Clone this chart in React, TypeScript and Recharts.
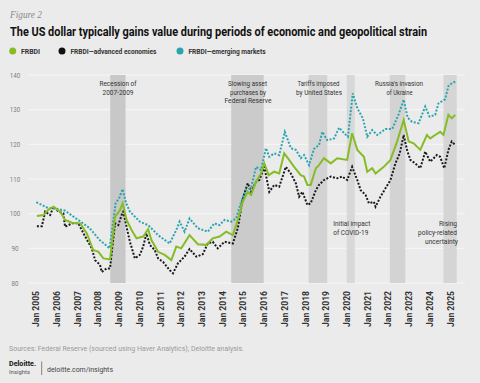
import React from 'react';
import { LineChart, Line, XAxis, YAxis, CartesianGrid, ReferenceArea } from 'recharts';

const yearTicks = [2005, 2006, 2007, 2008, 2009, 2010, 2011, 2012, 2013, 2014, 2015, 2016, 2017, 2018, 2019, 2020, 2021, 2022, 2023, 2024, 2025];
const valueTicks = [80, 90, 100, 110, 120, 130, 140];

const frbdiDates = [2005.03, 2005.35, 2005.59, 2005.83, 2006.15, 2006.39, 2006.72, 2007.12, 2007.44, 2007.75, 2008.0, 2008.24, 2008.56, 2008.8, 2009.04, 2009.17, 2009.36, 2009.6, 2009.84, 2010.16, 2010.4, 2010.56, 2010.88, 2011.2, 2011.52, 2011.76, 2012.0, 2012.4, 2012.8, 2013.2, 2013.52, 2013.85, 2014.17, 2014.49, 2014.73, 2014.97, 2015.21, 2015.37, 2015.61, 2015.85, 2016.01, 2016.22, 2016.49, 2016.73, 2016.97, 2017.21, 2017.45, 2017.77, 2017.93, 2018.09, 2018.25, 2018.5, 2018.65, 2018.89, 2019.22, 2019.53, 2020.01, 2020.25, 2020.5, 2020.82, 2020.98, 2021.22, 2021.38, 2021.78, 2022.1, 2022.42, 2022.74, 2022.98, 2023.22, 2023.54, 2023.86, 2024.02, 2024.26, 2024.5, 2024.66, 2024.9, 2025.06, 2025.23];
const frbdiValues = [99.3, 99.6, 101.2, 102.0, 100.6, 98.2, 97.4, 97.2, 94.3, 89.5, 89.0, 87.1, 86.8, 99.1, 101.0, 103.0, 98.2, 95.3, 92.9, 93.4, 95.5, 92.4, 89.0, 88.1, 86.6, 90.5, 90.0, 93.8, 91.2, 91.0, 92.9, 93.4, 94.8, 93.8, 98.2, 103.4, 106.3, 105.4, 109.2, 111.6, 114.5, 111.1, 112.1, 111.6, 117.4, 115.5, 113.5, 111.1, 110.7, 108.3, 108.3, 113.1, 114.0, 116.0, 114.5, 116.0, 115.5, 123.2, 118.4, 116.4, 112.1, 113.1, 111.6, 113.5, 115.5, 120.8, 127.0, 120.8, 120.3, 118.4, 122.7, 121.7, 122.7, 123.6, 122.7, 128.5, 127.5, 128.5];

const advancedDates = [2005.03, 2005.27, 2005.43, 2005.67, 2005.83, 2006.07, 2006.31, 2006.39, 2006.72, 2007.03, 2007.36, 2007.68, 2007.84, 2008.08, 2008.16, 2008.4, 2008.56, 2008.8, 2008.96, 2009.12, 2009.2, 2009.36, 2009.52, 2009.76, 2010.0, 2010.16, 2010.32, 2010.48, 2010.72, 2010.88, 2011.12, 2011.44, 2011.6, 2011.84, 2012.16, 2012.4, 2012.73, 2013.04, 2013.28, 2013.52, 2013.76, 2014.09, 2014.49, 2014.73, 2014.97, 2015.21, 2015.37, 2015.61, 2015.77, 2016.01, 2016.25, 2016.49, 2016.73, 2017.05, 2017.29, 2017.53, 2017.69, 2017.85, 2018.09, 2018.25, 2018.5, 2018.65, 2018.89, 2019.22, 2019.53, 2019.77, 2020.01, 2020.25, 2020.5, 2020.66, 2020.9, 2021.06, 2021.3, 2021.38, 2021.62, 2021.86, 2022.1, 2022.34, 2022.55, 2022.74, 2022.9, 2023.06, 2023.3, 2023.54, 2023.78, 2024.02, 2024.34, 2024.5, 2024.7, 2024.9, 2025.06, 2025.23];
const advancedValues = [96.4, 96.4, 100.6, 99.6, 102.0, 100.6, 100.1, 96.2, 97.2, 97.2, 93.4, 90.0, 86.6, 85.2, 83.2, 84.2, 84.2, 97.2, 96.7, 99.6, 100.6, 96.2, 91.9, 87.1, 88.1, 90.5, 94.3, 91.0, 89.5, 87.1, 86.1, 83.7, 82.8, 85.7, 87.6, 89.8, 87.6, 88.3, 91.4, 91.9, 90.0, 91.9, 91.4, 95.8, 104.4, 108.8, 106.3, 109.2, 109.7, 113.5, 106.3, 108.3, 107.8, 113.5, 111.6, 108.8, 104.9, 106.3, 102.5, 103.0, 106.8, 108.3, 109.7, 110.7, 110.2, 110.7, 109.7, 113.5, 109.7, 106.8, 105.4, 103.0, 103.4, 102.0, 104.9, 107.3, 109.7, 114.5, 117.4, 122.7, 118.4, 115.5, 114.5, 113.1, 117.9, 115.0, 116.9, 116.4, 113.1, 118.4, 120.8, 119.8];

const emergingDates = [2005.0, 2005.58, 2005.9, 2006.38, 2007.02, 2007.58, 2008.06, 2008.54, 2008.83, 2009.0, 2009.17, 2009.33, 2009.52, 2010.0, 2010.4, 2010.64, 2010.88, 2011.44, 2011.76, 2011.92, 2012.16, 2012.4, 2012.8, 2013.28, 2013.6, 2013.85, 2014.09, 2014.41, 2014.65, 2014.89, 2015.13, 2015.37, 2015.61, 2015.85, 2016.09, 2016.25, 2016.49, 2016.73, 2017.0, 2017.29, 2017.53, 2017.77, 2017.93, 2018.17, 2018.41, 2018.65, 2018.81, 2019.05, 2019.38, 2019.62, 2019.9, 2020.05, 2020.28, 2020.5, 2020.77, 2020.98, 2021.22, 2021.46, 2021.86, 2022.18, 2022.5, 2022.74, 2022.93, 2023.14, 2023.46, 2023.78, 2023.99, 2024.26, 2024.42, 2024.74, 2024.9, 2025.06, 2025.23];
const emergingValues = [103.3, 101.6, 101.5, 100.9, 98.2, 95.8, 92.4, 90.0, 103.0, 104.5, 107.1, 103.1, 100.6, 97.7, 96.7, 95.3, 93.8, 91.4, 95.3, 97.7, 94.8, 98.6, 95.8, 94.8, 97.2, 96.7, 98.2, 97.7, 98.6, 103.4, 106.8, 107.3, 113.5, 112.6, 118.9, 116.4, 117.4, 116.9, 123.6, 118.9, 118.4, 116.0, 116.9, 114.0, 118.7, 119.8, 123.6, 121.2, 121.7, 124.8, 123.0, 122.2, 134.7, 130.4, 127.5, 122.2, 124.1, 122.7, 124.4, 124.4, 128.7, 132.9, 127.7, 126.5, 126.1, 130.9, 128.0, 128.5, 131.8, 133.0, 136.8, 137.6, 138.1];

const bandStarts = [2008.57, 2014.41, 2018.15, 2019.99, 2022.07, 2024.66];
const bandEnds = [2009.31, 2015.98, 2019.05, 2020.38, 2022.82, 2025.3];
const bandColors = ['#c8c8c8', '#cbcbcb', '#d3d3d3', '#d8d8d8', '#d3d3d3', '#d5d5d5'];

const frbdiData = frbdiDates.map((t, i) => ({ t, v: frbdiValues[i] }));
const advancedData = advancedDates.map((t, i) => ({ t, v: advancedValues[i] }));
const emergingData = emergingDates.map((t, i) => ({ t, v: emergingValues[i] }));

const FONT = "Roboto, 'Noto Sans', sans-serif";

const XTick = (props: any) => {
  const { x, payload } = props;
  return (
    <text
      transform={`translate(${x},291) rotate(-90)`}
      textAnchor="end"
      dominantBaseline="central"
      fontSize={8.5}
      fontFamily={FONT}
      fontWeight="bold"
      fill="#333"
      textLength={36}
      lengthAdjust="spacingAndGlyphs"
    >
      {`Jan ${payload.value}`}
    </text>
  );
};

const YTick = (props: any) => {
  const { y, payload } = props;
  return (
    <text transform={`translate(15,${y}) scale(0.78,1)`} textAnchor="middle" dominantBaseline="central" fontSize={8} fontFamily={FONT} fill="#808080">
      {payload.value}
    </text>
  );
};

type TProps = { x: number; y: number; w: number; size: number; sx?: number; anchor?: 'start' | 'middle' | 'end'; weight?: string; color?: string; family?: string; italic?: boolean; children: React.ReactNode };
const T = ({ x, y, w, size, sx = 0.82, anchor = 'start', weight = 'normal', color = '#333', family = FONT, italic = false, children }: TProps) => (
  <text
    transform={`translate(${x},${y}) scale(${sx},1)`}
    textAnchor={anchor}
    fontSize={size}
    fontWeight={weight}
    fill={color}
    fontFamily={family}
    fontStyle={italic ? 'italic' : 'normal'}
    textLength={w / sx}
    lengthAdjust="spacingAndGlyphs"
  >
    {children}
  </text>
);

export default function App() {
  return (
    <div style={{ position: 'absolute', left: 0, top: 0, width: 480, height: 383, background: '#ebebeb', overflow: 'hidden' }}>
      <div style={{ position: 'absolute', left: 0, top: 0 }}>
        <LineChart width={480} height={383} margin={{ top: 75, right: 15, bottom: 70, left: 0 }}>
          <CartesianGrid vertical={false} stroke="#f7f7f7" strokeWidth={1} />
          <XAxis
            dataKey="t"
            type="number"
            domain={[2004.6, 2025.7]}
            ticks={yearTicks}
            tick={<XTick />}
            axisLine={false}
            tickLine={false}
            interval={0}
            height={30}
            allowDataOverflow
          />
          <YAxis
            type="number"
            domain={[80, 140]}
            ticks={valueTicks}
            tick={<YTick />}
            axisLine={false}
            tickLine={false}
            width={28}
            allowDataOverflow
          />
          {bandStarts.map((s, i) => (
            <ReferenceArea key={i} x1={s} x2={bandEnds[i]} y1={80} y2={140} fill={bandColors[i]} fillOpacity={1} stroke="none" ifOverflow="hidden" />
          ))}
          <Line data={advancedData} dataKey="v" type="linear" stroke="#1a1a1a" strokeWidth={2} strokeDasharray="2 1.6" dot={false} isAnimationActive={false} />
          <Line data={emergingData} dataKey="v" type="linear" stroke="#2aa5ad" strokeWidth={2} strokeDasharray="2 1.6" dot={false} isAnimationActive={false} />
          <Line data={frbdiData} dataKey="v" type="linear" stroke="#86bc25" strokeWidth={2} dot={false} isAnimationActive={false} />
        </LineChart>
      </div>

      <svg width={480} height={383} style={{ position: 'absolute', left: 0, top: 0, pointerEvents: 'none' }}>
        <T x={10} y={18} w={32} size={10} sx={0.95} color="#8a8a8a" family="'Liberation Serif', 'DejaVu Serif', serif" italic>Figure 2</T>
        <T x={10} y={36} w={417} size={12.5} sx={0.8} weight="bold" color="#111">The US dollar typically gains value during periods of economic and geopolitical strain</T>

        <circle cx={12.7} cy={51} r={3.5} fill="#86bc25" />
        <T x={21} y={53.5} w={19} size={7} weight="bold">FRBDI</T>
        <circle cx={62} cy={51} r={3.5} fill="#111" />
        <T x={70.5} y={53.5} w={86} size={7} weight="bold">FRBDI—advanced economies</T>
        <circle cx={180} cy={51} r={3.5} fill="#2aa5ad" />
        <T x={188.5} y={53.5} w={77} size={7} weight="bold">FRBDI—emerging markets</T>

        <T x={118} y={86} w={37} size={8} anchor="middle">Recession of</T>
        <T x={118} y={94.5} w={31} size={8} anchor="middle">2007-2009</T>

        <T x={247.5} y={86} w={39} size={8} anchor="middle">Slowing asset</T>
        <T x={248} y={94.5} w={36} size={8} anchor="middle">purchases by</T>
        <T x={248} y={103} w={47} size={8} anchor="middle">Federal  Reserve</T>

        <T x={318.5} y={86} w={42} size={8} anchor="middle">Tariffs imposed</T>
        <T x={319} y={94.5} w={46} size={8} anchor="middle">by United States</T>

        <T x={399} y={86} w={48} size={8} anchor="middle">Russia's invasion</T>
        <T x={399.5} y={94.5} w={26} size={8} anchor="middle">of Ukraine</T>

        <T x={333.3} y={226} w={37} size={8}>Initial impact</T>
        <T x={333.3} y={235} w={35} size={8}>of COVID-19</T>

        <T x={457} y={226} w={18} size={8} anchor="end">Rising</T>
        <T x={457} y={235} w={39} size={8} anchor="end">policy-related</T>
        <T x={458} y={244} w={33} size={8} anchor="end">uncertainty</T>

        <T x={9} y={350.5} w={235} size={7.5} color="#9a9a9a">Sources: Federal Reserve (sourced using Haver Analytics); Deloitte analysis.</T>

        <T x={9} y={366} w={27} size={6.5} weight="bold" color="#111">Deloitte.</T>
        <T x={9} y={374} w={21} size={6} color="#555">Insights</T>
        <line x1={41.7} y1={361.5} x2={41.7} y2={375} stroke="#666" strokeWidth={0.8} />
        <T x={47} y={371.5} w={66} size={8} color="#444">deloitte.com/insights</T>
      </svg>
    </div>
  );
}
